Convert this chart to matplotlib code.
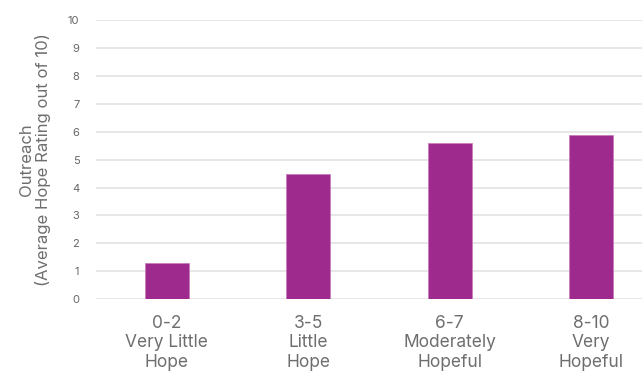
import matplotlib.pyplot as plt
import numpy as np

# Data
ranges = ['0-2', '3-5', '6-7', '8-10']
descriptions = ['Very Little\nHope', 'Little\nHope', 'Moderately\nHopeful', 'Very\nHopeful']
avg_hope = [1.3, 4.5, 5.6, 5.9]

plt.rcParams['font.family'] = ['Inter', 'DejaVu Sans']

fig = plt.figure(figsize=(6.42, 3.75), dpi=100)
ax = fig.add_axes([96 / 642, 0.2019, 566 / 642, 0.7448])

x = np.arange(len(ranges))
ax.bar(x, avg_hope, width=0.31, color='#9E2A8E', edgecolor='#C77DBD', linewidth=0.6, zorder=3)

ax.set_xlim(-0.5, len(ranges) - 0.5)
ax.set_ylim(0, 10)
ax.set_yticks(range(0, 11))
ax.yaxis.grid(True, color='#E0E0E0', linewidth=1.1, zorder=0)
ax.set_axisbelow(True)

for s in ax.spines.values():
    s.set_visible(False)

ax.set_xticks(x)
ax.set_xticklabels([f'{r}\n{d}' for r, d in zip(ranges, descriptions)],
                   fontsize=12.5, color='#6E6E6E', linespacing=1.2)
ax.tick_params(axis='x', length=0, pad=11)
ax.tick_params(axis='y', length=0, pad=12, labelsize=8, labelcolor='#666666')

ax.set_ylabel('Outreach\n(Average Hope Rating out of 10)', fontsize=12,
              color='#6E6E6E', linespacing=1.1, labelpad=12)

fig.savefig('out.png', dpi=100)
